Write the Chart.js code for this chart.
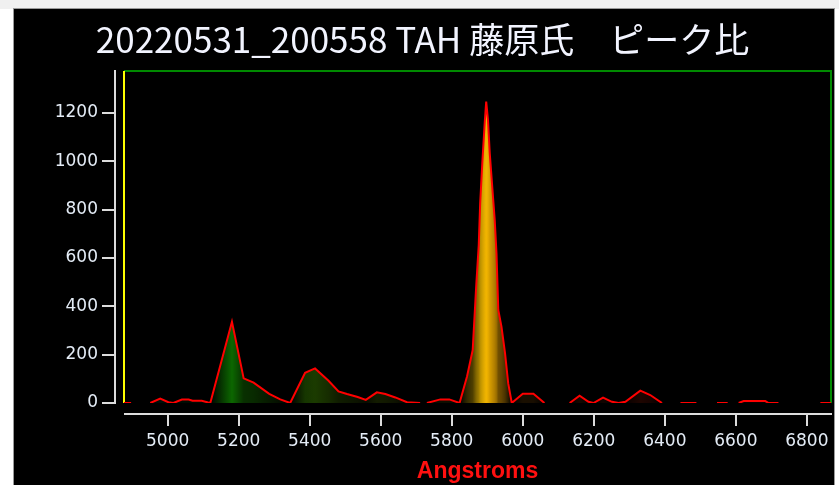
<!DOCTYPE html>
<html lang="ja">
<head>
<meta charset="utf-8">
<title>ピーク比</title>
<script src="https://cdn.jsdelivr.net/npm/chart.js@4/dist/chart.umd.min.js"></script>
<style>
  html, body { margin: 0; padding: 0; background: #ffffff; }
  body { width: 839px; height: 485px; position: relative; overflow: hidden; }
  #topStrip { position: absolute; left: 0; top: 0; width: 839px; height: 9px; background: #f0f0f0; }
  #panel {
    position: absolute; left: 14px; top: 9px; width: 820px; height: 476px;
    background: #000000; box-shadow: 0 0 0 1px #9a9a9a;
  }
  canvas { display: block; }
</style>
</head>
<body>
<div id="topStrip"></div>
<div id="panel"><canvas id="spectrum" width="820" height="476"></canvas></div>
<script>
// スペクトル (Å) とカウント値。null は欠測で線が途切れる
const TITLE = "20220531_200558 TAH 藤原氏　ピーク比";
const X_TITLE = "Angstroms";

const WAVELENGTHS = [
  4877, 4897, 4924, 4951, 4979, 5002, 5016, 5040, 5059, 5070, 5096, 5114, 5120,
  5181, 5214, 5242, 5286, 5317, 5345, 5387, 5415, 5453, 5481, 5505, 5535, 5558,
  5589, 5613, 5641, 5674, 5711, 5720, 5730, 5768, 5793, 5822,
  5843, 5859, 5869, 5876, 5880, 5886, 5893, 5897, 5902, 5907, 5914, 5921, 5926,
  5931, 5940, 5950, 5959, 5969,
  6000, 6030, 6061, 6095, 6132, 6160, 6185, 6199, 6226, 6251, 6270, 6289, 6331,
  6359, 6392, 6418, 6444, 6489, 6518, 6547, 6577, 6592, 6608, 6622, 6683, 6692,
  6720, 6780, 6838, 6870,
];
const INTENSITY = [
  0, 0, null, 0, 18, 3, 0, 14, 14, 9, 9, 2, 0,
  336, 102, 84, 38, 15, 0, 125, 143, 92, 48, 37, 25, 13,
  44, 37, 23, 3, 0, null, 0, 15, 15, 0,
  110, 219, 488, 654, 826, 992, 1164, 1247, 1171, 1033, 895, 757, 619,
  385, 316, 206, 81, 0,
  38, 38, 0, null, 0, 30, 5, 0, 22, 5, 0, 5, 51,
  33, 0, null, 0, 0, null, 0, 0, null, 0, 8, 8, 0,
  0, null, 0, 0,
];

const X_TICKS = [5000, 5200, 5400, 5600, 5800, 6000, 6200, 6400, 6600, 6800];
const Y_TICKS = [0, 200, 400, 600, 800, 1000, 1200];

const X_MIN = 4877;
const X_MAX = 6868;
const Y_MIN = 0;
const Y_MAX = 1374;
const PEAK_NORM = 1250;

/**
 * 波長 (Å) を可視光の色に変換し、強度で明るさを落とす
 * @param {number} wl
 * @param {number} v
 */
function spectralColor(wl, v) {
  const nm = wl / 10;
  let r = 0, g = 0, b = 0;
  if (nm < 440) { r = (440 - nm) / 60; b = 1; }
  else if (nm < 490) { g = (nm - 440) / 50; b = 1; }
  else if (nm < 510) { g = 1; b = (510 - nm) / 20; }
  else if (nm < 580) { r = (nm - 510) / 70; g = 1; }
  else if (nm < 645) { r = 1; g = ((645 - nm) / 65) * 0.88; }
  else { r = 1; }
  const k = Math.pow(Math.min(1, Math.max(0, v) / PEAK_NORM), 0.65) * 0.95;
  return `rgb(${Math.round(r * 255 * k)},${Math.round(g * 255 * k)},${Math.round(b * 255 * k)})`;
}

const points = WAVELENGTHS.map((w, i) => ({ x: w, y: INTENSITY[i] }));

// 枠線（上・右が緑、左が黄）
const framePlugin = {
  id: "frame",
  beforeDatasetsDraw(chart) {
    const { ctx, chartArea: a } = chart;
    ctx.save();
    ctx.lineWidth = 2;
    ctx.strokeStyle = "#008a00";
    ctx.beginPath();
    ctx.moveTo(a.left, a.top);
    ctx.lineTo(a.right, a.top);
    ctx.lineTo(a.right, a.bottom);
    ctx.stroke();
    ctx.strokeStyle = "#ffff00";
    ctx.beginPath();
    ctx.moveTo(a.left, a.top);
    ctx.lineTo(a.left, a.bottom);
    ctx.stroke();
    ctx.restore();
  },
};

// 離して描く軸線と目盛り
const axesPlugin = {
  id: "detachedAxes",
  afterDraw(chart) {
    const { ctx, chartArea: a, scales } = chart;
    const ax = a.left - 9;
    const ay = a.bottom + 11;
    ctx.save();
    ctx.strokeStyle = "#dcdcdc";
    ctx.lineWidth = 2;
    ctx.beginPath();
    ctx.moveTo(ax, a.top - 1);
    ctx.lineTo(ax, a.bottom + 1);
    scales.y.ticks.forEach((t) => {
      const py = Math.round(scales.y.getPixelForValue(t.value));
      ctx.moveTo(ax - 13, py);
      ctx.lineTo(ax, py);
    });
    ctx.moveTo(a.left, ay);
    ctx.lineTo(a.right + 1, ay);
    scales.x.ticks.forEach((t) => {
      const px = Math.round(scales.x.getPixelForValue(t.value));
      ctx.moveTo(px, ay);
      ctx.lineTo(px, ay + 12);
    });
    ctx.stroke();
    ctx.restore();
  },
};

const tickFont = { family: "'DejaVu Sans', sans-serif", size: 17 };

new Chart(document.getElementById("spectrum"), {
  type: "line",
  data: {
    datasets: [
      {
        label: "spectrum",
        data: points,
        borderColor: "#ff0000",
        borderWidth: 2,
        pointRadius: 0,
        tension: 0,
        spanGaps: false,
        fill: "origin",
        backgroundColor(c) {
          const chart = c.chart;
          const a = chart.chartArea;
          if (!a) return "rgba(0,0,0,0)";
          const xs = chart.scales.x;
          const grad = chart.ctx.createLinearGradient(a.left, 0, a.right, 0);
          WAVELENGTHS.forEach((w, i) => {
            const v = INTENSITY[i];
            if (v === null) return;
            const off = (xs.getPixelForValue(w) - a.left) / (a.right - a.left);
            grad.addColorStop(Math.min(1, Math.max(0, off)), spectralColor(w, v));
          });
          return grad;
        },
      },
    ],
  },
  options: {
    responsive: false,
    devicePixelRatio: 1,
    animation: false,
    layout: { padding: { left: 0, right: 3, top: 0, bottom: 0 } },
    plugins: {
      legend: { display: false },
      tooltip: { enabled: false },
      title: {
        display: true,
        text: TITLE,
        color: "#f2f4ff",
        font: { family: "'Noto Sans CJK JP', 'DejaVu Sans', sans-serif", size: 35, weight: "normal", lineHeight: 1.2 },
        padding: { top: 10, bottom: 10 },
      },
    },
    scales: {
      x: {
        type: "linear",
        min: X_MIN,
        max: X_MAX,
        grid: { display: false, drawTicks: false },
        border: { display: false },
        afterBuildTicks(scale) {
          scale.ticks = X_TICKS.map((v) => ({ value: v }));
        },
        ticks: {
          maxRotation: 0,
          autoSkip: false,
          padding: 28,
          color: "#e4ecf6",
          font: tickFont,
          callback: (v) => String(v),
        },
        title: {
          display: true,
          text: X_TITLE,
          color: "#ff1010",
          font: { family: "'Liberation Sans', Arial, sans-serif", size: 23, weight: "bold", lineHeight: 1.2 },
          padding: { top: 0, bottom: 0 },
        },
        afterFit(scale) {
          scale.height = 82;
          scale.paddingLeft = 0;
          scale.paddingRight = 0;
        },
      },
      y: {
        type: "linear",
        min: Y_MIN,
        max: Y_MAX,
        grid: { display: false, drawTicks: false },
        border: { display: false },
        afterBuildTicks(scale) {
          scale.ticks = Y_TICKS.map((v) => ({ value: v }));
        },
        ticks: {
          padding: 26,
          color: "#e4ecf6",
          font: tickFont,
          callback: (v) => String(v),
        },
        afterFit(scale) {
          scale.width = 110;
          scale.paddingTop = 0;
          scale.paddingBottom = 0;
        },
      },
    },
  },
  plugins: [framePlugin, axesPlugin],
});
</script>
</body>
</html>
